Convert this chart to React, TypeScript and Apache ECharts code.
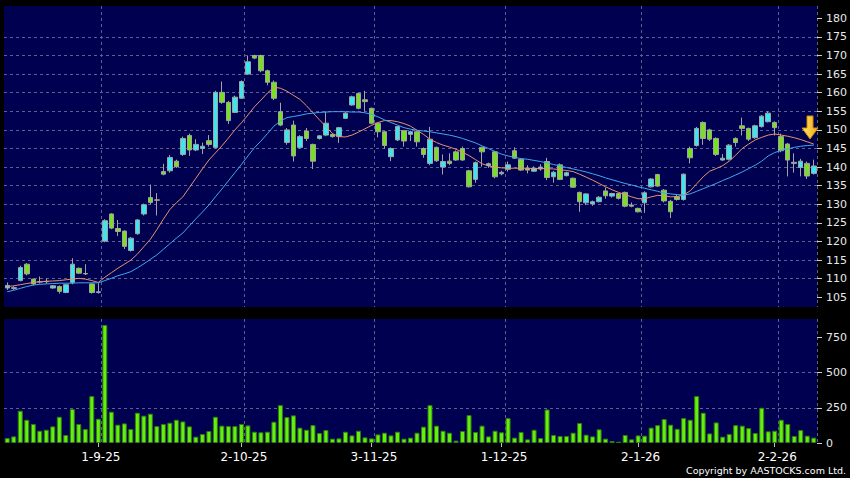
import React, { useEffect, useRef } from "react";
import * as echarts from "echarts";

const dates = [
  "12-8-25","13-8-25","14-8-25","15-8-25","18-8-25","19-8-25","20-8-25","21-8-25","22-8-25","25-8-25","26-8-25","27-8-25","28-8-25","29-8-25",
  "1-9-25","2-9-25","3-9-25","4-9-25","5-9-25","8-9-25","9-9-25","10-9-25","11-9-25","12-9-25","15-9-25","16-9-25","17-9-25","18-9-25","19-9-25","22-9-25","23-9-25","24-9-25","25-9-25","26-9-25","29-9-25","30-9-25",
  "2-10-25","3-10-25","6-10-25","8-10-25","9-10-25","10-10-25","13-10-25","14-10-25","15-10-25","16-10-25","17-10-25","20-10-25","21-10-25","22-10-25","23-10-25","24-10-25","27-10-25","28-10-25","30-10-25","31-10-25",
  "3-11-25","4-11-25","5-11-25","6-11-25","7-11-25","10-11-25","11-11-25","12-11-25","13-11-25","14-11-25","17-11-25","18-11-25","19-11-25","20-11-25","21-11-25","24-11-25","25-11-25","26-11-25","27-11-25","28-11-25",
  "1-12-25","2-12-25","3-12-25","4-12-25","5-12-25","8-12-25","9-12-25","10-12-25","11-12-25","12-12-25","15-12-25","16-12-25","17-12-25","18-12-25","19-12-25","22-12-25","23-12-25","24-12-25","29-12-25","30-12-25","31-12-25",
  "2-1-26","5-1-26","6-1-26","7-1-26","8-1-26","9-1-26","12-1-26","13-1-26","14-1-26","15-1-26","16-1-26","19-1-26","20-1-26","21-1-26","22-1-26","23-1-26","26-1-26","27-1-26","28-1-26","29-1-26","30-1-26",
  "2-2-26","3-2-26","4-2-26","5-2-26","6-2-26","9-2-26","10-2-26"
];

const tickDates = ["1-9-25", "2-10-25", "3-11-25", "1-12-25", "2-1-26", "2-2-26"];

const open = [
  107.5,107.6,109.5,113.9,109.9,109.2,109.2,107.5,107.9,106.3,109.0,112.8,111.4,108.6,106.5,120.1,127.4,123.5,122.8,117.6,
  122.1,127.4,131.8,131.2,138.8,139.0,141.6,143.4,148.5,144.6,145.0,147.1,145.3,160.1,157.4,154.7,158.5,165.0,170.0,170.0,
  165.9,162.8,154.9,146.6,151.3,145.3,149.7,146.1,147.7,148.6,148.8,148.2,153.1,156.7,159.8,158.1,155.8,151.8,149.5,142.8,
  147.3,149.8,148.8,149.5,145.0,141.0,145.3,140.0,141.6,144.1,145.0,139.0,136.7,145.3,140.4,144.1,138.2,139.4,144.4,142.1,
  139.6,138.9,139.5,141.5,137.4,140.6,137.7,137.0,133.2,130.4,130.1,130.7,133.6,132.2,132.9,133.2,129.8,128.9,130.4,134.7,
  138.0,133.8,130.8,132.0,131.3,145.0,145.8,152.0,150.0,147.7,141.9,142.1,147.7,151.1,150.4,147.9,150.9,152.2,152.0,148.2,
  146.2,141.3,139.9,141.0,138.3
];
const close = [
  108.2,107.4,113.0,111.3,108.6,109.1,109.3,108.1,106.6,108.4,113.9,111.5,111.3,106.3,106.3,125.6,123.6,122.7,118.7,120.9,
  125.8,129.9,130.5,131.1,138.1,142.6,140.1,147.7,144.6,146.1,145.6,146.1,160.1,157.4,152.5,158.8,163.0,168.3,169.3,165.9,
  162.8,158.5,151.3,150.0,143.0,148.2,147.7,141.6,148.4,151.8,148.2,150.6,154.5,158.9,155.8,157.6,151.8,149.5,145.8,145.0,
  150.9,147.0,149.5,146.8,143.4,147.5,141.7,141.5,141.0,141.9,141.9,134.7,141.2,144.1,140.9,137.4,138.6,140.6,142.4,139.2,
  139.2,139.7,140.0,137.2,138.6,136.7,138.5,134.6,130.7,132.8,130.7,131.9,132.3,132.9,131.6,129.5,129.5,128.0,133.1,136.8,
  134.9,130.9,128.0,131.3,138.1,142.5,150.4,147.7,147.5,143.4,142.4,145.9,146.6,150.4,147.5,151.1,153.7,154.5,150.6,144.4,
  141.9,141.0,141.6,137.6,140.3
];
const low = [
  107.0,107.0,109.3,110.9,108.2,108.7,108.7,107.3,106.0,106.1,108.5,111.3,111.0,106.0,106.0,119.8,123.3,121.5,118.0,117.3,
  121.8,127.0,130.0,127.0,137.8,138.5,139.8,143.0,143.0,144.3,143.5,145.5,145.0,157.0,151.6,154.5,158.3,164.8,169.0,165.5,
  162.0,158.0,151.0,146.0,141.5,145.0,147.0,139.5,147.4,148.3,147.9,146.5,152.9,156.5,155.5,155.0,151.5,148.0,145.0,141.6,
  147.0,145.5,147.0,145.5,142.5,140.5,141.4,138.0,140.5,141.7,141.7,134.5,135.8,140.1,139.8,137.0,137.8,138.8,142.2,139.0,
  138.3,138.7,139.0,136.5,135.8,136.5,137.5,134.4,128.0,129.8,129.6,130.5,131.5,131.8,131.3,129.2,129.2,127.8,127.7,134.5,
  134.7,130.5,126.3,131.0,131.0,141.0,145.5,146.0,147.0,143.0,141.7,141.8,145.5,148.5,147.0,147.6,150.6,152.0,148.5,144.0,
  137.5,138.5,137.5,136.8,138.0
];
const high = [
  109.0,108.0,113.5,114.2,110.0,110.6,110.1,108.3,108.2,108.6,115.5,113.0,113.9,108.8,108.8,126.0,127.6,125.8,123.0,121.2,
  126.0,130.2,135.3,133.0,140.9,143.2,142.0,148.2,149.0,147.5,146.6,148.6,160.5,163.0,157.8,159.2,163.3,170.0,170.2,170.2,
  166.2,163.3,157.3,150.5,152.5,148.6,150.5,146.3,148.6,154.9,149.1,150.8,154.8,159.2,160.0,160.5,156.0,152.0,149.7,145.3,
  151.1,150.0,149.8,149.8,145.3,150.8,145.5,143.4,143.7,144.5,145.5,139.3,141.5,145.5,141.2,144.3,139.0,141.5,145.3,142.3,
  140.5,140.2,140.8,142.5,139.0,141.0,138.8,137.2,133.4,133.0,131.0,132.2,134.5,133.1,133.1,133.4,130.5,129.1,133.5,137.0,
  138.2,134.1,131.2,132.5,138.3,145.5,150.8,152.3,150.3,148.0,143.5,146.2,148.0,153.3,150.6,151.4,154.0,155.0,152.3,149.0,
  146.5,143.7,142.2,141.5,142.0
];

const maShort = [
  107.9,108.1,108.4,108.7,109.0,109.2,109.3,109.4,109.5,109.7,109.9,110.1,109.9,109.5,109.0,110.4,111.6,112.8,113.9,115.0,
  116.6,118.6,120.6,123.2,126.0,128.6,130.4,132.0,134.5,137.0,139.5,141.9,143.8,145.7,147.8,150.0,151.9,154.0,156.2,158.0,
  159.9,161.5,161.2,160.4,159.3,158.2,156.5,154.6,152.7,150.9,149.0,148.2,148.1,148.6,149.4,150.3,151.2,152.0,152.5,152.5,
  152.2,151.7,151.0,149.9,148.8,147.5,146.6,145.9,145.4,144.8,144.0,143.1,142.0,140.9,140.3,140.0,139.8,139.7,139.7,139.7,
  139.7,139.6,139.6,139.6,139.5,139.3,139.1,138.8,138.1,137.3,136.5,135.6,134.7,133.9,133.2,132.6,132.0,131.5,131.5,132.0,
  132.4,132.3,132.0,132.1,132.5,133.6,135.5,137.4,138.9,139.6,140.4,141.6,143.2,145.0,146.2,147.3,148.0,148.6,148.9,148.6,
  148.3,147.9,147.4,146.8,146.2
];
const maLong = [
  106.5,106.9,107.4,107.9,108.3,108.5,108.6,108.7,108.8,108.8,108.8,108.9,108.9,108.9,108.9,109.5,110.1,110.8,111.3,111.9,
  112.9,114.0,115.2,116.4,117.9,119.4,120.9,122.3,124.2,126.1,127.9,129.8,132.0,134.1,136.3,138.5,140.7,143.0,145.2,147.0,
  149.0,151.0,152.4,153.3,153.6,153.9,154.3,154.5,154.7,154.8,154.9,154.9,154.9,154.8,154.8,154.6,154.2,153.5,152.7,152.0,
  151.3,150.6,150.2,149.9,149.7,149.5,149.2,148.9,148.6,148.2,147.7,147.1,146.5,145.7,145.0,144.2,143.5,143.0,142.6,142.3,
  142.1,141.8,141.5,141.1,140.7,140.3,139.9,139.5,139.1,138.7,138.2,137.7,137.1,136.6,136.1,135.6,135.2,134.7,134.3,133.9,
  133.5,133.0,132.8,132.6,132.5,132.8,133.5,134.2,134.9,135.6,136.4,137.1,137.9,138.7,139.6,140.5,141.6,143.0,143.9,144.5,
  144.9,145.3,145.6,145.8,145.9
];

const volume = [
  35,47,229,165,135,87,94,118,186,57,241,135,99,333,172,838,222,130,139,99,
  215,194,208,120,135,144,165,153,118,45,64,85,186,123,120,120,135,125,80,76,
  80,151,269,184,196,109,94,127,71,92,31,33,80,54,87,40,33,61,73,54,
  80,31,38,73,116,269,123,87,73,17,85,198,78,123,47,87,76,177,38,78,
  26,94,35,238,57,50,50,73,142,59,47,97,31,14,9,57,26,54,52,109,
  127,170,130,101,177,165,333,215,68,146,45,64,127,123,106,71,250,83,87,165,
  135,50,92,52,38
];

const priceTicks = [105, 110, 115, 120, 125, 130, 135, 140, 145, 150, 155, 160, 165, 170, 175, 180];
const volumeTicks = [0, 250, 500, 750];

export default function App() {
  const ref = useRef<HTMLDivElement>(null);

  useEffect(() => {
    if (!ref.current) return;
    document.body.style.margin = "0";
    document.body.style.background = "#000";
    const chart = echarts.init(ref.current, undefined, { renderer: "svg" });

    const splitIdx = new Set(tickDates.map((d) => dates.indexOf(d) + 1));
    const isTick = (_i: number, v: string) => tickDates.indexOf(v) >= 0;
    const vSplit = (i: number) => splitIdx.has(i);

    const gridLine = { color: "#5e5e92", width: 1, type: [3, 3] as any };
    const candles = dates.map((_, i) => [open[i], close[i], low[i], high[i]]);

    chart.setOption({
      animation: false,
      backgroundColor: "#000000",
      grid: [
        { left: 4, top: 6, width: 814, height: 301, show: true, backgroundColor: "#000050", borderWidth: 0 },
        { left: 4, top: 319, width: 814, height: 124, show: true, backgroundColor: "#000050", borderWidth: 0 },
      ],
      xAxis: [
        {
          type: "category",
          gridIndex: 0,
          data: dates,
          boundaryGap: true,
          axisLine: { show: false },
          axisTick: { show: false },
          axisLabel: { show: false },
          splitLine: { show: true, interval: vSplit, lineStyle: gridLine },
        },
        {
          type: "category",
          gridIndex: 1,
          data: dates,
          boundaryGap: true,
          axisLine: { show: false },
          axisTick: { show: true, alignWithLabel: true, interval: isTick, length: 4, lineStyle: { color: "#bbbbbb" } },
          axisLabel: {
            show: true,
            interval: isTick,
            color: "#ffffff",
            fontSize: 12,
            fontFamily: "DejaVu Sans",
            margin: 8,
            padding: [0, 0, 0, 5],
          },
          splitLine: { show: true, interval: vSplit, lineStyle: gridLine },
        },
      ],
      yAxis: [
        {
          type: "value",
          gridIndex: 0,
          position: "right",
          min: 102.4,
          max: 183.3,
          axisLine: { show: false },
          axisTick: { show: true, length: 5, customValues: priceTicks, lineStyle: { color: "#cccccc" } },
          axisLabel: { customValues: priceTicks, color: "#e8e8e8", fontSize: 11, fontFamily: "DejaVu Sans", margin: 9 },
          splitLine: { show: true, showMinLine: false, showMaxLine: false, lineStyle: gridLine },
        },
        {
          type: "value",
          gridIndex: 1,
          position: "right",
          min: 0,
          max: 880,
          axisLine: { show: false },
          axisTick: { show: true, length: 5, customValues: volumeTicks, lineStyle: { color: "#cccccc" } },
          axisLabel: { customValues: volumeTicks, color: "#e8e8e8", fontSize: 11, fontFamily: "DejaVu Sans", margin: 9 },
          splitLine: { show: true, showMinLine: false, showMaxLine: false, lineStyle: gridLine },
        },
      ],
      series: [
        {
          type: "candlestick",
          xAxisIndex: 0,
          yAxisIndex: 0,
          data: candles,
          barWidth: 5,
          itemStyle: {
            color: "#3ae6f0",
            color0: "#78e021",
            borderColor: "#a3a3a3",
            borderColor0: "#a3a3a3",
            borderWidth: 1,
          },
        },
        {
          type: "line",
          xAxisIndex: 0,
          yAxisIndex: 0,
          data: maShort,
          symbol: "none",
          lineStyle: { color: "#e8926c", width: 1 },
        },
        {
          type: "line",
          xAxisIndex: 0,
          yAxisIndex: 0,
          data: maLong,
          symbol: "none",
          lineStyle: { color: "#40a8ec", width: 1 },
        },
        {
          type: "bar",
          xAxisIndex: 1,
          yAxisIndex: 1,
          data: volume,
          barWidth: 5,
          itemStyle: { color: "#66ee11", borderColor: "#2e7d0a", borderWidth: 1 },
        },
      ],
      graphic: [
        {
          type: "polygon",
          shape: {
            points: [
              [807, 116], [813, 116], [813, 128], [818, 128], [810, 139], [802, 128], [807, 128],
            ],
          },
          style: {
            fill: new echarts.graphic.LinearGradient(0, 0, 1, 0, [
              { offset: 0, color: "#ffe866" },
              { offset: 1, color: "#f2a818" },
            ]),
            stroke: "#d08a00",
            lineWidth: 1,
          },
          z: 100,
        },
        {
          type: "text",
          right: 4,
          top: 465,
          style: {
            text: "Copyright by AASTOCKS.com Ltd.",
            fill: "#ffffff",
            font: "9.5px 'DejaVu Sans'",
          },
          z: 100,
        },
      ],
    });

    return () => chart.dispose();
  }, []);

  return (
    <div
      ref={ref}
      style={{ position: "fixed", left: 0, top: 0, width: 850, height: 478, background: "#000" }}
    />
  );
}
